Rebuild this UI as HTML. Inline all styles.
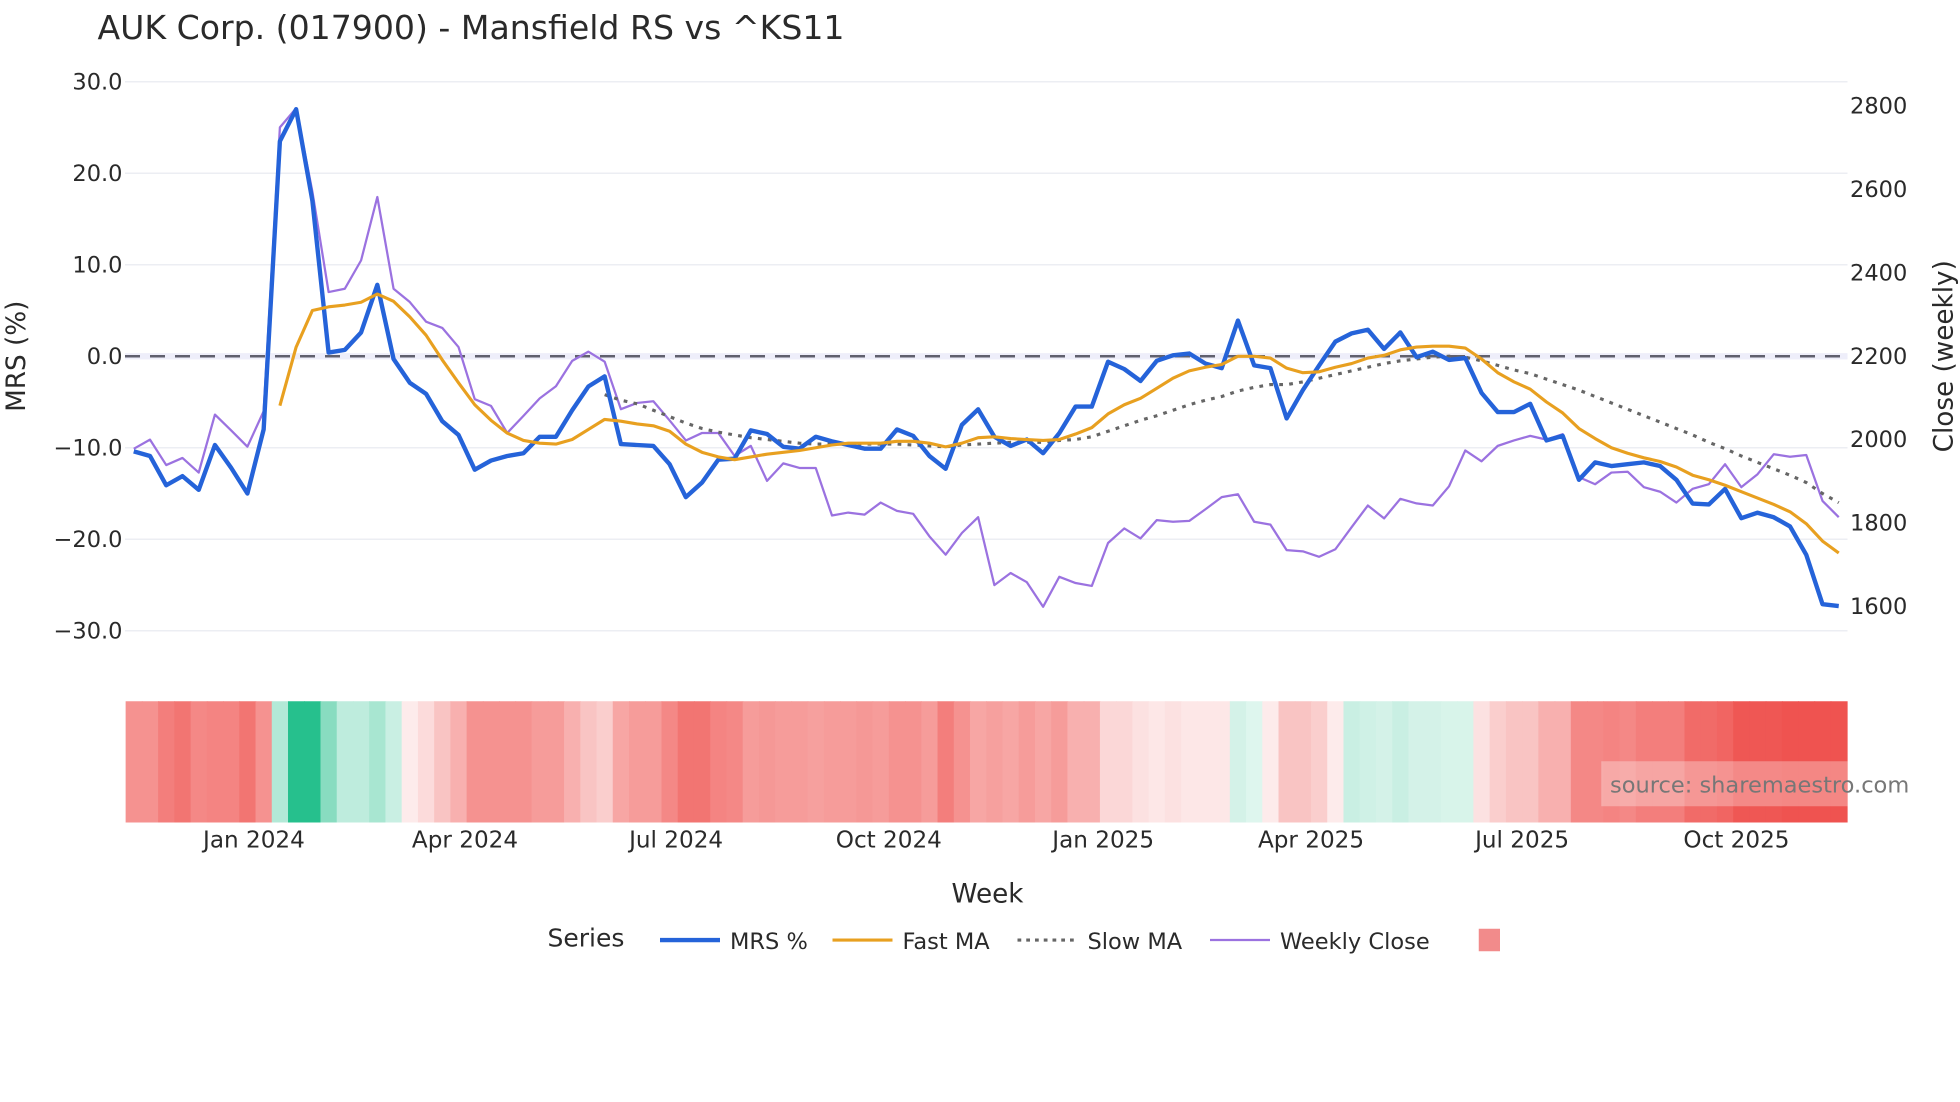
<!DOCTYPE html>
<html><head><meta charset="utf-8"><style>
html,body{margin:0;padding:0;background:#fff;}
svg{display:block;font-family:"DejaVu Sans","Liberation Sans",sans-serif;}
</style></head><body>
<svg id="chart" width="1960" height="1102" viewBox="0 0 1568 881.6" xmlns="http://www.w3.org/2000/svg">
<text x="78" y="31" font-size="26.5" fill="#2a2a2a">AUK Corp. (017900) - Mansfield RS vs ^KS11</text>
<g id="grid"></g><g id="heat"></g><g id="lines"></g><g id="axes"></g>
<g>
<rect x="1281" y="609" width="197" height="36" fill="#fff" fill-opacity="0.3"/>
<text x="1288" y="634" font-size="18" fill="#777">source: sharemaestro.com</text>
</g>
<text x="790" y="722" font-size="21" fill="#2a2a2a" text-anchor="middle">Week</text>
<text transform="translate(20,285) rotate(-90)" font-size="21" fill="#2a2a2a" text-anchor="middle">MRS (%)</text>
<text transform="translate(1562,285) rotate(-90)" font-size="21" fill="#2a2a2a" text-anchor="middle">Close (weekly)</text>
<g>
<text x="438" y="757" font-size="20" fill="#2a2a2a">Series</text>
<g><line x1="528" y1="752" x2="576" y2="752" stroke="#2563d9" stroke-width="3.5"/><text x="584" y="759" font-size="18" fill="#2a2a2a">MRS %</text></g>
<g><line x1="666" y1="752" x2="714" y2="752" stroke="#e8a020" stroke-width="2.5"/><text x="722" y="759" font-size="18" fill="#2a2a2a">Fast MA</text></g>
<g><line x1="814" y1="752" x2="862" y2="752" stroke="#666" stroke-width="2.5" stroke-dasharray="3,4"/><text x="870" y="759" font-size="18" fill="#2a2a2a">Slow MA</text></g>
<g><line x1="968" y1="752" x2="1016" y2="752" stroke="#9b72e0" stroke-width="1.8"/><text x="1024" y="759" font-size="18" fill="#2a2a2a">Weekly Close</text></g>
<rect x="1183" y="743" width="17" height="18" fill="#f28b8b"/>
</g>
</svg>
<script>
const mrs=[-10.4,-10.9,-14.1,-13.1,-14.6,-9.7,-12.2,-15.0,-8.0,23.5,27.0,17.0,0.4,0.7,2.6,7.8,-0.3,-2.9,-4.1,-7.1,-8.6,-12.4,-11.4,-10.9,-10.6,-8.8,-8.8,-5.9,-3.3,-2.2,-9.6,-9.7,-9.8,-11.8,-15.4,-13.8,-11.3,-11.2,-8.1,-8.5,-9.9,-10.1,-8.8,-9.3,-9.7,-10.1,-10.1,-8.0,-8.7,-10.9,-12.3,-7.5,-5.8,-8.8,-9.8,-9.1,-10.6,-8.4,-5.5,-5.5,-0.6,-1.4,-2.7,-0.5,0.1,0.3,-0.8,-1.3,3.9,-1.0,-1.3,-6.8,-3.7,-1.0,1.6,2.5,2.9,0.8,2.6,-0.1,0.5,-0.4,-0.2,-4.0,-6.1,-6.1,-5.2,-9.2,-8.7,-13.5,-11.6,-12.0,-11.8,-11.6,-12.0,-13.5,-16.1,-16.2,-14.5,-17.7,-17.1,-17.6,-18.6,-21.7,-27.1,-27.3];
const fastStart=9;
const fastMA=[-5.4,1.0,5.0,5.4,5.6,5.9,6.8,6.0,4.3,2.3,-0.4,-2.9,-5.3,-7.0,-8.4,-9.2,-9.5,-9.6,-9.1,-8.0,-6.9,-7.1,-7.4,-7.6,-8.2,-9.6,-10.5,-11.0,-11.3,-11.0,-10.7,-10.5,-10.3,-10.0,-9.7,-9.5,-9.5,-9.5,-9.3,-9.3,-9.5,-9.9,-9.5,-8.9,-8.8,-9.0,-9.1,-9.2,-9.1,-8.5,-7.8,-6.3,-5.3,-4.6,-3.5,-2.4,-1.6,-1.2,-0.9,0.0,0.0,-0.2,-1.3,-1.8,-1.7,-1.2,-0.8,-0.2,0.1,0.7,1.0,1.1,1.1,0.9,-0.3,-1.8,-2.8,-3.6,-5.0,-6.2,-7.9,-9.0,-10.0,-10.6,-11.1,-11.5,-12.1,-13.0,-13.5,-14.1,-14.8,-15.5,-16.2,-17.0,-18.3,-20.2,-21.5];
const slowStart=29;
const slowMA=[-4.2,-4.8,-5.2,-5.9,-6.6,-7.3,-7.9,-8.3,-8.6,-8.9,-9.1,-9.3,-9.5,-9.6,-9.6,-9.6,-9.6,-9.6,-9.6,-9.7,-9.8,-9.9,-9.7,-9.6,-9.5,-9.4,-9.4,-9.4,-9.2,-9.1,-8.8,-8.2,-7.6,-7.0,-6.5,-5.9,-5.3,-4.8,-4.4,-3.8,-3.4,-3.1,-3.1,-2.8,-2.4,-2.0,-1.6,-1.2,-0.8,-0.5,-0.3,-0.1,0.0,-0.1,-0.5,-1.0,-1.5,-1.9,-2.5,-3.1,-3.7,-4.4,-5.1,-5.8,-6.5,-7.2,-7.9,-8.6,-9.4,-10.1,-10.9,-11.6,-12.3,-13.0,-13.8,-15.0,-16.0];
const weeklyClose=[1978,2000,1939,1956,1921,2060,2022,1983,2068,2749,2795,2595,2354,2362,2430,2582,2362,2330,2283,2268,2222,2097,2081,2016,2057,2099,2128,2189,2211,2187,2073,2088,2092,2046,1998,2016,2016,1961,1985,1901,1943,1932,1932,1818,1825,1820,1849,1829,1822,1768,1724,1776,1814,1651,1680,1658,1599,1671,1656,1649,1752,1787,1763,1807,1803,1805,1833,1862,1869,1803,1796,1735,1732,1719,1737,1790,1842,1811,1858,1847,1842,1888,1974,1948,1985,1998,2009,2000,2013,1910,1893,1921,1923,1886,1875,1849,1882,1893,1941,1886,1917,1965,1959,1963,1853,1814];
const heat=[-0.55,-0.55,-0.65,-0.7,-0.6,-0.62,-0.62,-0.7,-0.55,0.35,1.0,1.0,0.55,0.3,0.3,0.4,0.25,-0.1,-0.18,-0.3,-0.4,-0.55,-0.55,-0.55,-0.55,-0.5,-0.5,-0.4,-0.3,-0.25,-0.45,-0.5,-0.5,-0.6,-0.7,-0.7,-0.62,-0.6,-0.5,-0.52,-0.5,-0.5,-0.48,-0.5,-0.5,-0.52,-0.5,-0.55,-0.55,-0.5,-0.65,-0.55,-0.45,-0.48,-0.45,-0.5,-0.45,-0.5,-0.4,-0.4,-0.2,-0.2,-0.15,-0.12,-0.15,-0.12,-0.12,-0.12,0.2,0.15,-0.1,-0.3,-0.3,-0.25,-0.1,0.25,0.22,0.2,0.25,0.2,0.2,0.18,0.18,-0.15,-0.25,-0.3,-0.3,-0.4,-0.4,-0.6,-0.6,-0.62,-0.6,-0.65,-0.65,-0.65,-0.75,-0.75,-0.78,-0.85,-0.85,-0.85,-0.88,-0.88,-0.9,-0.9];
const leftTicks=[30,20,10,0,-10,-20,-30];
const rightTicks=[2800,2600,2400,2200,2000,1800,1600];
const xTickPos=[7.4,20.4,33.4,46.5,59.7,72.5,85.5,98.7];
const xTickLabels=["Jan 2024","Apr 2024","Jul 2024","Oct 2024","Jan 2025","Apr 2025","Jul 2025","Oct 2025"];

const NS="http://www.w3.org/2000/svg";
const X0=100,X1=1478,STEP=(1471-107)/105;
function xs(i){return 107+i*STEP;}
function yL(v){return 285-7.32*v;}
function yR(c){return 285-(c-2200)*0.3335;}
function mk(tag,attrs,parent){const e=document.createElementNS(NS,tag);for(const k in attrs)e.setAttribute(k,attrs[k]);parent.appendChild(e);return e;}
const grid=document.getElementById('grid'),heatG=document.getElementById('heat'),lines=document.getElementById('lines'),axes=document.getElementById('axes');

leftTicks.forEach(v=>{
  if(v!==0){const g=mk('line',{x1:X0,x2:X1,y1:yL(v),y2:yL(v),stroke:'#eceef3','stroke-width':1.2},grid);
  
  }
  const t=mk('text',{x:98,y:yL(v)+6,'font-size':18,fill:'#2a2a2a','text-anchor':'end'},axes);
  t.textContent=(v>0?'':v<0?'\u2212':'')+Math.abs(v).toFixed(1);
  
  
});
rightTicks.forEach(c=>{
  const t=mk('text',{x:1480,y:yR(c)+6,'font-size':18,fill:'#2a2a2a'},axes);
  t.textContent=c;
  
  
});
xTickPos.forEach((p,k)=>{
  const t=mk('text',{x:xs(p),y:678,'font-size':18.5,fill:'#2a2a2a','text-anchor':'middle'},axes);
  t.textContent=xTickLabels[k];
  
  
});
const zb=mk('line',{x1:X0,x2:X1,y1:yL(0),y2:yL(0),stroke:'#eeeefa','stroke-width':5},grid);


const zl=mk('line',{x1:X0,x2:X1,y1:yL(0),y2:yL(0),stroke:'#60606e','stroke-width':2,'stroke-dasharray':'12,8'},grid);



heat.forEach((h,i)=>{
  const a=Math.min(1,Math.abs(h)*(h<0?1.15:1));
  const base=h<0?[239,83,80]:[38,192,141];
  const col='rgb('+base.map(c=>Math.round(255-(255-c)*a)).join(',')+')';
  const l=Math.max(X0,xs(i)-STEP/2),r=Math.min(X1,xs(i)+STEP/2);
  const rc=mk('rect',{x:l,y:561,width:r-l+0.6,height:97,fill:col},heatG);
  
  
});

function path(vals,start,yf){return vals.map((v,k)=>(k?'L':'M')+xs(start+k).toFixed(2)+','+yf(v).toFixed(2)).join('');}
const pw=mk('path',{d:path(weeklyClose,0,yR),fill:'none',stroke:'#9b72e0','stroke-width':1.8,'stroke-linejoin':'round'},lines);


const ps=mk('path',{d:path(slowMA,slowStart,yL),fill:'none',stroke:'#666','stroke-width':2.5,'stroke-dasharray':'3,5'},lines);


const pm=mk('path',{d:path(mrs,0,yL),fill:'none',stroke:'#2563d9','stroke-width':3.5,'stroke-linejoin':'round'},lines);


const pf=mk('path',{d:path(fastMA,fastStart,yL),fill:'none',stroke:'#e8a020','stroke-width':2.5,'stroke-linejoin':'round'},lines);


</script>
</body></html>
